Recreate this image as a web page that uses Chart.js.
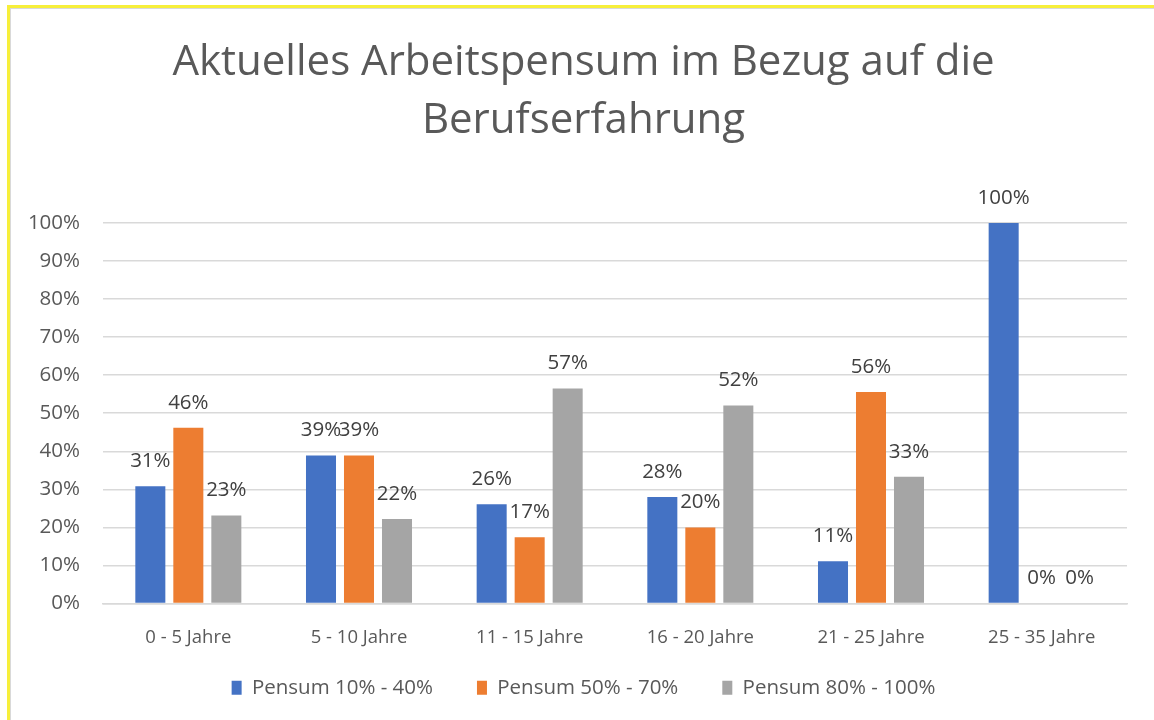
<!DOCTYPE html>
<html>
<head>
<meta charset="utf-8">
<script src="https://cdn.jsdelivr.net/npm/chart.js@4"></script>
<style>
  html, body { margin: 0; padding: 0; background: #fff; }
  #wrap { position: relative; width: 1154px; height: 720px; }
  #frame { position: absolute; left: 7px; top: 5px; right: 0; bottom: 0;
    border-left: 3px solid #f7ef3a; border-top: 3px solid #f7ef3a; pointer-events: none; }
  #frame::after { content: ''; position: absolute; left: 0; top: 0; right: 0; bottom: 0;
    border-left: 1px solid #d9d9d9; border-top: 1px solid #d9d9d9; }
</style>
</head>
<body>
<div id="wrap">
  <canvas id="chart" width="1154" height="720"></canvas>
  <div id="frame"></div>
</div>
<script>
const categories = ['0 - 5 Jahre', '5 - 10 Jahre', '11 - 15 Jahre', '16 - 20 Jahre', '21 - 25 Jahre', '25 - 35 Jahre'];
const pensumLow = [30.8, 38.9, 26.1, 28, 11.1, 100];
const pensumMid = [46.2, 38.9, 17.4, 20, 55.6, 0];
const pensumHigh = [23.1, 22.2, 56.5, 52, 33.3, 0];
const seriesNames = ['Pensum 10% - 40%', 'Pensum 50% - 70%', 'Pensum 80% - 100%'];
const seriesColors = ['#4472c4', '#ed7d31', '#a5a5a5'];
const yTicks = [0, 10, 20, 30, 40, 50, 60, 70, 80, 90, 100];

const fontFamily = '"Open Sans", "Noto Sans", sans-serif';

// draws the percent label above each bar
const barLabels = {
  id: 'barLabels',
  afterDatasetsDraw(chart) {
    const ctx = chart.ctx;
    ctx.save();
    ctx.font = `20.5px ${fontFamily}`;
    ctx.fillStyle = '#404040';
    ctx.textAlign = 'center';
    ctx.textBaseline = 'middle';
    chart.data.datasets.forEach((ds, i) => {
      chart.getDatasetMeta(i).data.forEach((bar, j) => {
        ctx.fillText(Math.round(ds.data[j]) + '%', bar.x, bar.y - 25);
      });
    });
    ctx.restore();
  }
};

// axis boxes are kept tight for layout; widen them afterwards so tick labels are not clipped
const looseAxes = {
  id: 'looseAxes',
  afterLayout(chart) {
    chart.scales.y.left = 0;
    chart.scales.x.bottom = chart.height;
  }
};

new Chart(document.getElementById('chart'), {
  type: 'bar',
  data: {
    labels: categories,
    datasets: [pensumLow, pensumMid, pensumHigh].map((d, i) => ({
      label: seriesNames[i],
      data: d,
      backgroundColor: seriesColors[i],
      categoryPercentage: 0.668,
      barPercentage: 0.79
    }))
  },
  options: {
    responsive: false,
    animation: false,
    layout: { padding: { left: 40, right: 27, top: 0, bottom: 12 } },
    plugins: {
      title: {
        display: true,
        text: ['Aktuelles Arbeitspensum im Bezug auf die', 'Berufserfahrung'],
        color: '#595959',
        font: { family: fontFamily, size: 42, weight: 'normal', lineHeight: 1.38 },
        padding: { top: 34, bottom: 73 }
      },
      legend: {
        position: 'bottom',
        labels: {
          color: '#595959',
          font: { family: fontFamily, size: 20.5 },
          boxWidth: 10,
          boxHeight: 14,
          padding: 44
        }
      },
      tooltip: { enabled: false }
    },
    scales: {
      x: {
        afterFit: (s) => { s.height = 30; },
        grid: { display: false },
        border: { color: '#d9d9d9', width: 1.5 },
        ticks: { color: '#595959', font: { family: fontFamily, size: 18.5 }, padding: 15 }
      },
      y: {
        min: 0,
        max: 100,
        afterFit: (s) => { s.width = 63; },
        afterBuildTicks: (s) => { s.ticks = yTicks.map((v) => ({ value: v })); },
        grid: { color: '#d9d9d9', lineWidth: 1.5, drawTicks: false },
        border: { display: false },
        ticks: {
          color: '#595959',
          font: { family: fontFamily, size: 20.5 },
          padding: 23,
          callback: (v) => v + '%'
        }
      }
    }
  },
  plugins: [barLabels, looseAxes]
});
</script>
</body>
</html>
